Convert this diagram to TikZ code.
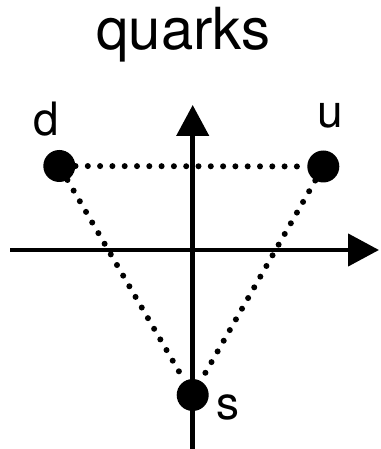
\documentclass[tikz,border=0pt]{standalone}
\usepackage{fontspec}
\setmainfont{TeX Gyre Heros}
\usetikzlibrary{arrows.meta}
\begin{document}
\begin{tikzpicture}[x=1pt,y=1pt,
  axis/.style={line width=4.5pt,-{Triangle[length=31pt,width=32pt]}},
  dots/.style={line width=6pt,line cap=round,dash pattern=on 0pt off 12.3pt},
  quark/.style={circle,fill=black,minimum size=32pt,inner sep=0pt},
  lbl/.style={anchor=base,inner sep=0pt,font=\fontsize{46}{50}\selectfont}]
\useasboundingbox (0,0) rectangle (380,449);
\node[anchor=base,inner sep=0pt,font=\fontsize{58}{62}\selectfont] (title) at (183.5,399) {quarks};
\coordinate (yb) at (192.7,0);
\coordinate (yt) at (192.7,344);
\coordinate (xl) at (10,199);
\coordinate (xr) at (379,199);
\draw[axis] (yb) -- (yt);
\draw[axis] (xl) -- (xr);
\node[quark] (d) at (59.3,283) {};
\node[quark] (u) at (323.3,282.5) {};
\node[quark] (s) at (192.7,54) {};
\draw[dots] (d) -- (u);
\draw[dots] (d) -- (s);
\draw[dots] (u) -- (s);
\node[lbl] (dl) at (46.7,313) {d};
\node[lbl] (ul) at (330,321) {u};
\node[lbl] (sl) at (228,29) {s};
\end{tikzpicture}
\end{document}
